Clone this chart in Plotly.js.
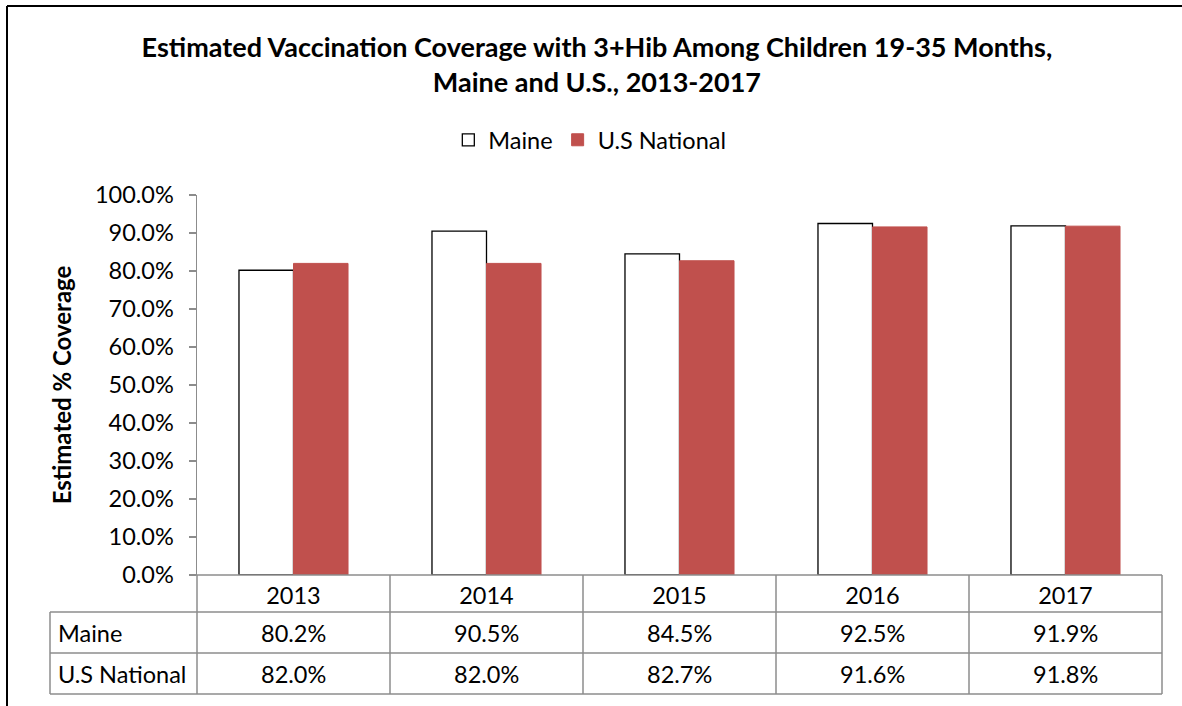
<!DOCTYPE html>
<html>
<head>
<meta charset="utf-8">
<script src="https://cdn.plot.ly/plotly-3.0.1.min.js"></script>
<style>html,body{margin:0;padding:0;background:#fff;}#chart{width:1182px;height:706px;}</style>
</head>
<body>
<div id="chart"></div>
<script>
var years = ['2013', '2014', '2015', '2016', '2017'];
var maine = [80.2, 90.5, 84.5, 92.5, 91.9];
var usNational = [82.0, 82.0, 82.7, 91.6, 91.8];
var seriesNames = ['Maine', 'U.S National'];

var W = 1182, H = 706;
var L = 197, R = 20, T = 195, B = 131;
var pw = W - L - R, ph = H - T - B;
function px(x) { return (x - L) / pw; }
function py(y) { return (T + ph - y) / ph; }

var FONT = 'Lato, "Liberation Sans", sans-serif';
var TXT = 23.5;
var gridColor = '#8c8c8c';

var traces = [
  { type: 'bar', name: seriesNames[0], x: years, y: maine,
    marker: { color: '#ffffff', line: { color: '#000000', width: 1.3 } }, hoverinfo: 'x+y' },
  { type: 'bar', name: seriesNames[1], x: years, y: usNational,
    marker: { color: '#C0504D', line: { color: '#C0504D', width: 1 } }, hoverinfo: 'x+y' }
];

var shapes = [];
function line(x0, y0, x1, y1, color, w) {
  shapes.push({ type: 'line', xref: 'paper', yref: 'paper', x0: px(x0), y0: py(y0), x1: px(x1), y1: py(y1),
    line: { color: color, width: w } });
}
// outer border
line(7, 6, 7, 706, '#000', 2);
line(7, 6, 1182, 6, '#000', 2);
// table grid
var colX = [197, 390, 583, 776, 969, 1162];
var rowY = [575, 612, 653, 694];
line(190, 575, 1162, 575, gridColor, 1.5);
line(50, 612, 1162, 612, gridColor, 1.5);
line(50, 653, 1162, 653, gridColor, 1.5);
line(50, 694, 1162, 694, gridColor, 1.5);
line(50, 612, 50, 694, gridColor, 1.5);
colX.forEach(function (c) { line(c, 575, c, 694, gridColor, 1.5); });

var annotations = [];
var rows = [maine, usNational];
rows.forEach(function (vals, r) {
  var yc = (rowY[r + 1] + rowY[r + 2]) / 2;
  annotations.push({ xref: 'paper', yref: 'paper', x: px(56), y: py(yc), xanchor: 'left', yanchor: 'middle',
    text: seriesNames[r], showarrow: false, font: { family: FONT, size: TXT, color: '#000' } });
  vals.forEach(function (v, i) {
    annotations.push({ xref: 'x', yref: 'paper', x: i, y: py(yc), xanchor: 'center', yanchor: 'middle',
      text: v.toFixed(1) + '%', showarrow: false, font: { family: FONT, size: TXT, color: '#000' } });
  });
});

var layout = {
  width: W, height: H,
  margin: { l: L, r: R, t: T, b: B, pad: 0 },
  paper_bgcolor: '#fff', plot_bgcolor: '#fff',
  font: { family: FONT, color: '#000' },
  title: { text: '<b>Estimated Vaccination Coverage with 3+Hib Among Children 19-35 Months,<br>Maine and U.S., 2013-2017</b>',
    font: { family: FONT, size: 27, color: '#000' }, xref: 'container', x: 0.505, xanchor: 'center',
    yref: 'container', y: 1 - 57 / H, yanchor: 'top' },
  barmode: 'group', bargap: 0.435, bargroupgap: 0,
  showlegend: true,
  legend: { orientation: 'h', xref: 'container', yref: 'container', x: 0.499, xanchor: 'center',
    y: 1 - 140 / H, yanchor: 'middle', font: { family: FONT, size: TXT, color: '#000' },
    tracegroupgap: 0, bgcolor: 'rgba(0,0,0,0)' },
  xaxis: { type: 'category', range: [-0.5, 4.5], autorange: false, showline: false, showgrid: false, zeroline: false, ticks: '',
    tickfont: { family: FONT, size: TXT, color: '#000' }, ticklabelstandoff: 4, fixedrange: true },
  yaxis: { range: [0, 100], autorange: false, dtick: 10, tick0: 0, tickformat: '.1f', ticksuffix: '%',
    showline: true, linecolor: gridColor, linewidth: 1.5, ticks: 'outside', ticklen: 7, tickcolor: gridColor, tickwidth: 1.5,
    showgrid: false, zeroline: false, ticklabelstandoff: 10,
    tickfont: { family: FONT, size: TXT, color: '#000' },
    title: { text: '<b>Estimated % Coverage</b>', font: { family: FONT, size: 24, color: '#000' }, standoff: 16 },
    fixedrange: true },
  shapes: shapes,
  annotations: annotations
};

Plotly.newPlot('chart', traces, layout, { displayModeBar: false, staticPlot: true });
</script>
</body>
</html>
